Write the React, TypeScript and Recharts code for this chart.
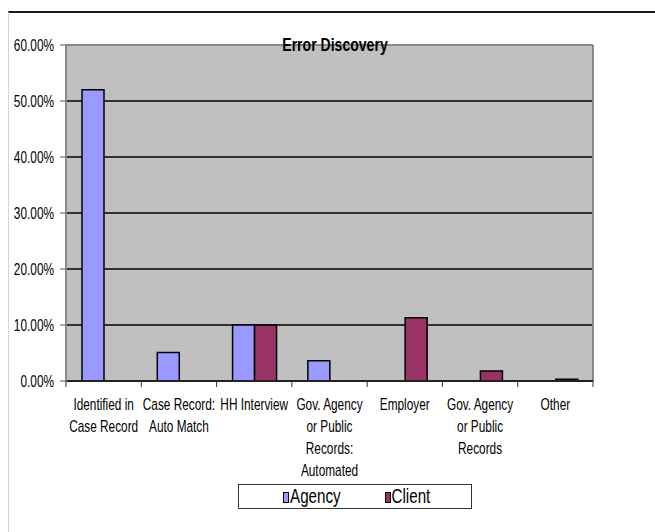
import React from "react";
import { BarChart, Bar, XAxis, YAxis, CartesianGrid, Legend } from "recharts";

// Data
const CATEGORIES = [
  "Identified in\nCase Record",
  "Case Record:\nAuto Match",
  "HH Interview",
  "Gov. Agency\nor Public\nRecords:\nAutomated",
  "Employer",
  "Gov. Agency\nor Public\nRecords",
  "Other",
];
const AGENCY = [0.52, 0.051, 0.1, 0.036, 0, 0, 0];
const CLIENT = [0, 0, 0.1, 0, 0.113, 0.018, 0.003];
const Y_TICKS = [0, 0.1, 0.2, 0.3, 0.4, 0.5, 0.6];

const data = CATEGORIES.map((name, i) => ({
  name,
  agency: AGENCY[i],
  client: CLIENT[i],
}));

// Layout
const W = 655;
const H = 532;
const MARGIN = { top: 45, right: 62, left: 6, bottom: 11 };
const Y_AXIS_W = 60;
const PLOT_W = W - MARGIN.left - MARGIN.right - Y_AXIS_W;
const BAND = PLOT_W / CATEGORIES.length;
// no Arial Narrow here, so squeeze Liberation Sans horizontally
const FONT = "'Liberation Sans', Arial, sans-serif";
const SQUEEZE = 0.74;

const AGENCY_COLOR = "#9999ff";
const CLIENT_COLOR = "#993366";

// Category label + Excel style tick marks on the band edges
const XTick = (props: any) => {
  const { x, y, payload, index } = props;
  const lines = String(payload.value).split("\n");
  return (
    <g>
      <line x1={x - BAND / 2} x2={x - BAND / 2} y1={y - 6} y2={y} stroke="#333" strokeWidth={1} />
      {index === CATEGORIES.length - 1 && (
        <line x1={x + BAND / 2} x2={x + BAND / 2} y1={y - 6} y2={y} stroke="#333" strokeWidth={1} />
      )}
      <g transform={`translate(${x},${y}) scale(${SQUEEZE},1)`}>
        <text x={0} y={0} textAnchor="middle" fontFamily={FONT} fontSize={16} fill="#000">
          {lines.map((l, i) => (
            <tspan key={i} x={0} dy={i === 0 ? 23 : 22}>
              {l}
            </tspan>
          ))}
        </text>
      </g>
    </g>
  );
};

const YTick = (props: any) => {
  const { x, y, payload } = props;
  return (
    <g transform={`translate(${x},${y}) scale(${SQUEEZE},1)`}>
      <text x={0} y={0} dy={5.5} textAnchor="end" fontFamily={FONT} fontSize={16} fill="#000">
        {`${(payload.value * 100).toFixed(2)}%`}
      </text>
    </g>
  );
};

const LegendBox = () => (
  <svg width={234} height={25} style={{ display: "block" }}>
    <rect x={0.5} y={0.5} width={233} height={24} fill="#fff" stroke="#333" strokeWidth={1} />
    <rect x={45.5} y={8.5} width={5} height={10} fill={AGENCY_COLOR} stroke="#000" strokeWidth={1} />
    <g transform={`translate(52,19) scale(0.76,1)`}>
      <text fontFamily={FONT} fontSize={20} fill="#000">Agency</text>
    </g>
    <rect x={147.5} y={8.5} width={5} height={10} fill={CLIENT_COLOR} stroke="#000" strokeWidth={1} />
    <g transform={`translate(153.5,19) scale(0.76,1)`}>
      <text fontFamily={FONT} fontSize={20} fill="#000">Client</text>
    </g>
  </svg>
);

export default function App() {
  return (
    <div style={{ position: "absolute", left: 0, top: 0, width: W, height: H, background: "#fff" }}>
      <div
        style={{
          position: "absolute",
          left: 8,
          top: 11,
          width: W - 8,
          height: H - 11,
          borderTop: "2px solid #1a1a1a",
          borderLeft: "1px solid #d4d4d4",
          boxSizing: "border-box",
        }}
      />
      <BarChart
        width={W}
        height={H}
        data={data}
        margin={MARGIN}
        barCategoryGap="20%"
        barGap={0}
        style={{ position: "absolute", left: 0, top: 0 }}
      >
        <CartesianGrid fill="#c0c0c0" vertical={false} stroke="#000" strokeWidth={1.5} strokeOpacity={1} />
        <CartesianGrid
          horizontal={false}
          verticalCoordinatesGenerator={({ offset }: any) => [offset.left + offset.width]}
          stroke="#8a8a8a"
          strokeWidth={2}
        />
        <CartesianGrid
          vertical={false}
          horizontalCoordinatesGenerator={({ offset }: any) => [offset.top]}
          stroke="#8a8a8a"
          strokeWidth={2}
        />
        <XAxis
          dataKey="name"
          interval={0}
          height={140}
          tickSize={6}
          tickMargin={0}
          tickLine={false}
          tick={<XTick />}
          axisLine={{ stroke: "#222", strokeWidth: 2 }}
        />
        <YAxis
          width={Y_AXIS_W}
          domain={[0, 0.6]}
          ticks={Y_TICKS}
          interval={0}
          tickSize={6}
          tickMargin={6}
          tick={<YTick />}
          tickLine={{ stroke: "#555" }}
          axisLine={{ stroke: "#8a8a8a", strokeWidth: 2 }}
        />
        <Legend
          layout="horizontal"
          verticalAlign="middle"
          align="center"
          content={<LegendBox />}
          wrapperStyle={{ position: "absolute", left: 238, top: 484, width: 234, height: 25 }}
        />
        <Bar dataKey="agency" name="Agency" fill={AGENCY_COLOR} stroke="#000" strokeWidth={1.5} barSize={22} isAnimationActive={false} />
        <Bar dataKey="client" name="Client" fill={CLIENT_COLOR} stroke="#000" strokeWidth={1.5} barSize={22} isAnimationActive={false} />
      </BarChart>
      <svg width={W} height={60} style={{ position: "absolute", left: 0, top: 0, pointerEvents: "none" }}>
        <g transform={`translate(335,51) scale(${SQUEEZE},1)`}>
          <text textAnchor="middle" fontFamily={FONT} fontWeight="bold" fontSize={19} fill="#000">
            Error Discovery
          </text>
        </g>
      </svg>
    </div>
  );
}
